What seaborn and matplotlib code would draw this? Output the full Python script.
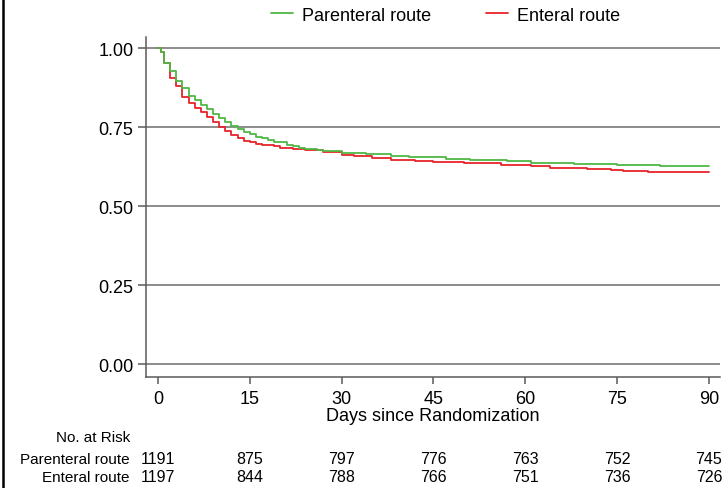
import numpy as np
import pandas as pd
import matplotlib
matplotlib.use("Agg")
import matplotlib.pyplot as plt
import matplotlib.transforms as mtransforms
from matplotlib.lines import Line2D
import seaborn as sns

# Kaplan-Meier step estimates (day, survival) for each arm
parenteral_days = [0, 0.5, 1, 2, 3, 4, 5, 6, 7, 8, 9, 10, 11, 12, 13, 14, 15, 16, 17,
                   18, 19, 21, 22, 23, 24, 26, 27, 30, 34, 38, 41, 47, 51, 57, 61, 68,
                   75, 82, 90]
parenteral_surv = [1.000, 0.987, 0.955, 0.928, 0.897, 0.873, 0.850, 0.836, 0.821,
                   0.807, 0.791, 0.778, 0.766, 0.755, 0.745, 0.736, 0.728, 0.720,
                   0.715, 0.709, 0.703, 0.695, 0.690, 0.686, 0.682, 0.677, 0.674,
                   0.669, 0.665, 0.660, 0.655, 0.651, 0.648, 0.642, 0.638, 0.633,
                   0.631, 0.628, 0.627]

enteral_days = [0, 0.5, 1, 2, 3, 4, 5, 6, 7, 8, 9, 10, 11, 12, 13, 14, 15, 16, 17,
                19, 20, 22, 24, 27, 30, 32, 35, 38, 42, 45, 50, 56, 61, 64, 70, 74,
                76, 80, 90]
enteral_surv = [1.000, 0.988, 0.955, 0.907, 0.882, 0.847, 0.828, 0.810, 0.797,
                0.784, 0.768, 0.752, 0.738, 0.726, 0.717, 0.707, 0.703, 0.698,
                0.694, 0.690, 0.686, 0.681, 0.677, 0.671, 0.662, 0.658, 0.654,
                0.647, 0.643, 0.640, 0.636, 0.632, 0.627, 0.622, 0.618, 0.615,
                0.612, 0.609, 0.609]

groups = ["Parenteral route", "Enteral route"]
colors = {"Parenteral route": "#4fb845", "Enteral route": "#e8232b"}

# Number at risk table
risk_days = [0, 15, 30, 45, 60, 75, 90]
risk_parenteral = [1191, 875, 797, 776, 763, 752, 745]
risk_enteral = [1197, 844, 788, 766, 751, 736, 726]

y_ticks = [0.00, 0.25, 0.50, 0.75, 1.00]
x_ticks = [0, 15, 30, 45, 60, 75, 90]

df = pd.concat([
    pd.DataFrame({"day": enteral_days, "surv": enteral_surv, "group": "Enteral route"}),
    pd.DataFrame({"day": parenteral_days, "surv": parenteral_surv, "group": "Parenteral route"}),
], ignore_index=True)

sns.set_style("white")
plt.rcParams["font.family"] = ["Liberation Sans", "DejaVu Sans"]
plt.rcParams["text.color"] = "black"
plt.rcParams["axes.labelcolor"] = "black"

fig = plt.figure(figsize=(7.28, 4.89), dpi=100)
ax = fig.add_axes([146 / 728, 1 - 377.5 / 489, (720 - 146) / 728, (377.5 - 38.3) / 489])

axis_grey = "#5a5a5a"

for yv in y_ticks:
    ax.axhline(yv, color="#6e6e6e", lw=1.1, zorder=1)

sns.lineplot(data=df, x="day", y="surv", hue="group",
             hue_order=["Enteral route", "Parenteral route"],
             palette=colors, estimator=None, drawstyle="steps-post",
             lw=1.3, legend=False, ax=ax, zorder=3)

ax.set_xlim(-1.96, 91.8)
ax.set_ylim(-0.0386, 1.035)
ax.set_xticks(x_ticks)
ax.set_yticks(y_ticks)
ax.set_yticklabels([f"{v:.2f}" for v in y_ticks])
ax.set_ylabel("")
ax.set_xlabel("Days since Randomization", fontsize=13, labelpad=-0.5, color="black")

for side in ["top", "right"]:
    ax.spines[side].set_visible(False)
for side in ["left", "bottom"]:
    ax.spines[side].set_color(axis_grey)
    ax.spines[side].set_linewidth(1.1)

ax.tick_params(axis="y", direction="out", length=6, width=1.1, color=axis_grey,
               labelcolor="black", labelsize=13, pad=3, left=True)
ax.tick_params(axis="x", direction="out", length=5, width=1.1, color=axis_grey,
               labelcolor="black", labelsize=13, pad=5, bottom=True)

handles = [Line2D([0], [0], color=colors[g], lw=1.3) for g in groups]
fig.legend(handles, groups, loc="center", bbox_to_anchor=(0.612, 0.967),
           ncol=2, frameon=False, fontsize=13, handlelength=1.25,
           handletextpad=0.5, columnspacing=3.0, labelcolor="black")

# Number-at-risk rows under the x axis
trans = mtransforms.blended_transform_factory(ax.transData, fig.transFigure)
fig.text(130 / 728, 1 - 438 / 489, "No. at Risk", ha="right", va="center",
         fontsize=11, color="black")
rows = [("Parenteral route", risk_parenteral, 460), ("Enteral route", risk_enteral, 478)]
for label, counts, ypx in rows:
    yf = 1 - ypx / 489
    fig.text(130 / 728, yf, label, ha="right", va="center", fontsize=11, color="black")
    for d, n in zip(risk_days, counts):
        ax.text(d, yf, str(n), transform=trans, ha="center", va="center",
                fontsize=11.5, color="black")

# Frame edge on the left side of the figure
fig.add_artist(Line2D([3 / 728, 3 / 728], [0, 1], transform=fig.transFigure,
                      color="black", lw=1.8))

fig.savefig("out.png", dpi=100)
